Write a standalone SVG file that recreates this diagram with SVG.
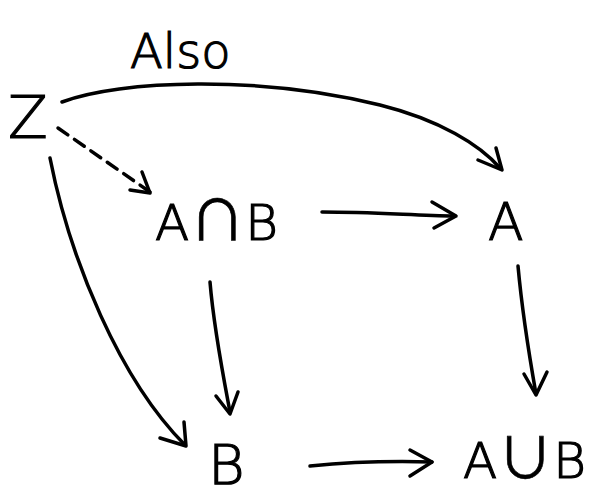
<svg xmlns="http://www.w3.org/2000/svg" width="597" height="504" viewBox="0 0 597 504">
<defs>
<style>
.c{fill:none;stroke:#000;stroke-width:3.5;stroke-linecap:round;stroke-linejoin:round}
.t{font-family:"DejaVu Sans","Liberation Sans",sans-serif;font-weight:300;fill:#000;stroke:#000;stroke-width:1.2}
.s{font-family:"Noto Sans CJK JP","DejaVu Sans",sans-serif;font-weight:400;stroke-width:0.6}
</style>
</defs>
<rect width="597" height="504" fill="#fff"/>
<g id="label-also"><text class="t" x="130" y="68" font-size="48">Also</text></g>
<g id="node-z"><text class="t" x="8" y="138" font-size="58">Z</text></g>
<g id="node-anb"><text class="t" x="155" y="240" font-size="50">A<tspan class="s" font-size="56">∩</tspan>B</text></g>
<g id="node-a"><text class="t" x="488" y="240" font-size="52">A</text></g>
<g id="node-b"><text class="t" x="208" y="484" font-size="56">B</text></g>
<g id="node-aub"><text class="t" x="463" y="478" font-size="50">A<tspan class="s" font-size="56">∪</tspan>B</text></g>
<g id="connectors">
<path class="c" d="M62,102 C120,80 260,75 380,105 C440,120 480,145 500,168"/>
<path class="c" d="M478,160 L502,170 L496,148"/>
<path class="c" d="M58,128 L150,192" stroke-dasharray="12,8"/>
<path class="c" d="M130,190 L150,193 L142,172"/>
<path class="c" d="M50,158 C70,260 120,380 185,445"/>
<path class="c" d="M160,438 L186,446 L184,422"/>
<path class="c" d="M322,212 C370,212 410,215 455,216"/>
<path class="c" d="M432,202 L456,216 L434,228"/>
<path class="c" d="M210,282 C214,330 224,380 230,412"/>
<path class="c" d="M216,396 L230,414 L238,392"/>
<path class="c" d="M518,266 C522,310 530,360 536,394"/>
<path class="c" d="M524,374 L536,395 L547,372"/>
<path class="c" d="M310,466 C350,462 395,461 432,462"/>
<path class="c" d="M410,450 L432,462 L410,476"/>
</g>
</svg>
